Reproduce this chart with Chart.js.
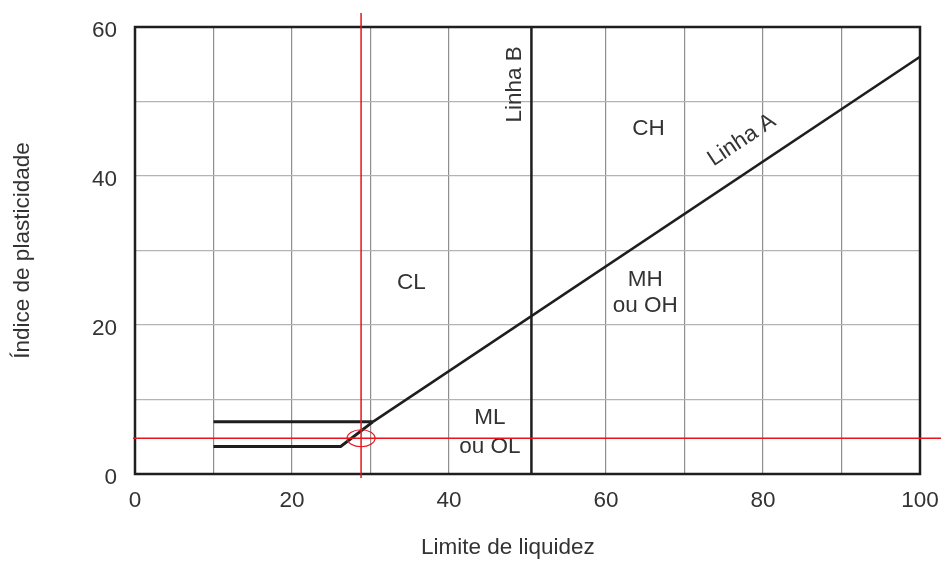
<!DOCTYPE html>
<html>
<head>
<meta charset="utf-8">
<script src="https://cdn.jsdelivr.net/npm/chart.js@4/dist/chart.umd.min.js"></script>
<style>
  html, body { margin: 0; padding: 0; background: #fff; }
  #wrap { width: 941px; height: 561px; }
</style>
</head>
<body>
<div id="wrap"><canvas id="cartaPlasticidade" width="941" height="561"></canvas></div>
<script>
// Carta de plasticidade de Casagrande
const linhaA_LL = [30.3, 100];
const linhaA_IP = [7, 56];
const limiteSup_LL = [10, 30.3];
const limiteSup_IP = [7, 7];
const limiteInf_LL = [10, 26.2, 30.3];
const limiteInf_IP = [3.7, 3.7, 7];
const linhaB_LL = [50.5, 50.5];
const linhaB_IP = [0, 60];
const amostra_LL = [28.8];
const amostra_IP = [4.8];
const xTicks = [0, 20, 40, 60, 80, 100];
const yTicks = [0, 20, 40, 60];

// rotulos das zonas (em coordenadas do grafico)
const zonas = [
    { text: 'CL', x: 35.2, y: 25.6 },
    { text: 'CH', x: 65.4, y: 46.4 },
    { text: 'MH', x: 65, y: 26.1 },
    { text: 'ou OH', x: 65, y: 22.6 },
    { text: 'ML', x: 45.2, y: 7.6 },
    { text: 'ou OL', x: 45.2, y: 3.7 }
];

const FONT = '"Liberation Sans", Arial, sans-serif';
const TEXT = '#333';
const FS = 22.5;

function pts(xs, ys) {
    return xs.map((x, i) => ({ x: x, y: ys[i] }));
}

function linha(label, xs, ys, w) {
    return {
        label: label,
        data: pts(xs, ys),
        showLine: true,
        borderColor: '#1e1e1e',
        borderWidth: w,
        pointRadius: 0,
        tension: 0
    };
}

const extras = {
    id: 'extras',
    afterDatasetsDraw(chart) {
        const ctx = chart.ctx;
        const area = chart.chartArea;
        const xs = chart.scales.x;
        const ys = chart.scales.y;
        ctx.save();

        // moldura
        ctx.strokeStyle = '#1e1e1e';
        ctx.lineWidth = 2.5;
        ctx.strokeRect(area.left, area.top, area.right - area.left, area.bottom - area.top);

        // textos
        ctx.fillStyle = TEXT;
        ctx.font = FS + 'px ' + FONT;
        ctx.textAlign = 'center';
        ctx.textBaseline = 'middle';
        zonas.forEach(z => {
            ctx.fillText(z.text, xs.getPixelForValue(z.x), ys.getPixelForValue(z.y));
        });

        // titulo do eixo x
        ctx.fillText('Limite de liquidez', xs.getPixelForValue(47.5), chart.height - 13);

        // Linha B
        ctx.save();
        ctx.translate(xs.getPixelForValue(48.4), ys.getPixelForValue(52.3));
        ctx.rotate(-Math.PI / 2);
        ctx.fillText('Linha B', 0, 0);
        ctx.restore();

        // Linha A, ao longo da reta
        const x0 = xs.getPixelForValue(linhaA_LL[0]), y0 = ys.getPixelForValue(linhaA_IP[0]);
        const x1 = xs.getPixelForValue(linhaA_LL[1]), y1 = ys.getPixelForValue(linhaA_IP[1]);
        ctx.save();
        ctx.translate(xs.getPixelForValue(77.3), ys.getPixelForValue(44.8));
        ctx.rotate(Math.atan2(y1 - y0, x1 - x0));
        ctx.fillText('Linha A', 0, 0);
        ctx.restore();

        // linhas vermelhas da amostra
        const px = xs.getPixelForValue(amostra_LL[0]);
        const py = ys.getPixelForValue(amostra_IP[0]);
        ctx.strokeStyle = '#e8141c';
        ctx.lineWidth = 1.5;
        ctx.beginPath();
        ctx.moveTo(px, area.top - 14);
        ctx.lineTo(px, area.bottom + 4);
        ctx.moveTo(area.left - 2, py);
        ctx.lineTo(chart.width, py);
        ctx.stroke();
        ctx.lineWidth = 1.2;
        ctx.beginPath();
        ctx.ellipse(px, py, 14, 8.5, 0, 0, Math.PI * 2);
        ctx.stroke();

        ctx.restore();
    }
};

const ctx = document.getElementById('cartaPlasticidade').getContext('2d');
new Chart(ctx, {
    type: 'scatter',
    data: {
        datasets: [
            linha('Linha A', linhaA_LL, linhaA_IP, 2.5),
            linha('Limite superior', limiteSup_LL, limiteSup_IP, 3),
            linha('Limite inferior', limiteInf_LL, limiteInf_IP, 3),
            linha('Linha B', linhaB_LL, linhaB_IP, 2.5)
        ]
    },
    options: {
        responsive: false,
        animation: false,
        layout: { padding: { top: 27, right: 21, left: 0, bottom: 0 } },
        plugins: {
            legend: { display: false },
            tooltip: { enabled: false }
        },
        scales: {
            x: {
                type: 'linear',
                min: 0,
                max: 100,
                afterFit: s => { s.height = 87; s.paddingLeft = 0; s.paddingRight = 0; },
                ticks: {
                    stepSize: 10,
                    autoSkip: false,
                    maxRotation: 0,
                    padding: 13,
                    color: TEXT,
                    font: { family: FONT, size: FS },
                    callback: v => xTicks.includes(v) ? v : ''
                },
                grid: {
                    color: c => (c.tick && c.tick.value === 50) ? 'rgba(0,0,0,0)' : '#8e8e8e',
                    lineWidth: 1.2,
                    drawTicks: false
                },
                border: { display: false }
            },
            y: {
                type: 'linear',
                min: 0,
                max: 60,
                afterFit: s => { s.width = 135; s.paddingTop = 0; s.paddingBottom = 0; },
                ticks: {
                    stepSize: 10,
                    autoSkip: false,
                    padding: 18,
                    labelOffset: 4,
                    color: TEXT,
                    font: { family: FONT, size: FS },
                    callback: v => yTicks.includes(v) ? v : ''
                },
                grid: { color: '#b4b4b4', lineWidth: 1.2, drawTicks: false },
                border: { display: false },
                title: {
                    display: true,
                    text: 'Índice de plasticidade',
                    color: TEXT,
                    font: { family: FONT, size: FS },
                    padding: { top: 9, bottom: 0 }
                }
            }
        }
    },
    plugins: [extras]
});
</script>
</body>
</html>
